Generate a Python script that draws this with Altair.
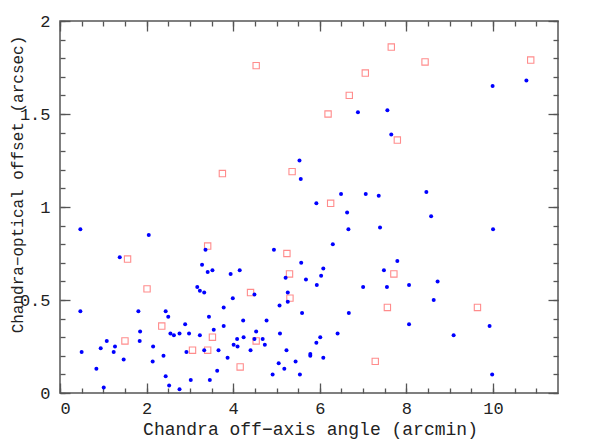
import altair as alt
import pandas as pd

# Blue points (filled circles)
blue_x = [0.47, 2.05, 1.38, 3.36, 3.28, 3.41, 3.52, 3.17, 3.23, 3.33, 3.94, 4.15, 4.94, 5.57,
          5.21, 5.26, 5.26, 5.07, 5.68, 5.59, 4.49, 3.99, 3.78, 3.44, 4.23, 4.77, 0.47, 1.81,
          2.44, 2.50, 2.89, 1.85, 1.84, 2.55, 2.63, 2.76, 2.98, 3.23, 3.55, 3.78, 4.09, 4.24,
          4.01, 4.10, 4.53, 4.49, 4.68, 4.73, 4.40, 5.08, 5.23, 5.05, 5.18, 5.44, 4.91, 5.54,
          3.66, 3.33, 2.92, 3.87, 3.63, 3.46, 3.02, 2.76, 2.52, 2.44, 2.14, 2.39, 2.15, 1.47,
          1.24, 1.27, 0.94, 1.08, 0.50, 0.84, 1.01, 5.53, 5.56, 9.99, 10.77, 6.88, 7.56, 7.65,
          6.49, 7.06, 7.36, 8.46, 5.92, 6.63, 8.57, 6.66, 7.39, 10.00, 6.30, 7.79, 6.08, 7.48,
          6.03, 5.93, 7.00, 7.55, 8.06, 8.72, 8.63, 6.67, 8.06, 9.92, 6.41, 9.09, 6.01, 5.92,
          5.78, 5.78, 6.08, 9.98]
blue_y = [0.88, 0.85, 0.73, 0.77, 0.69, 0.65, 0.66, 0.57, 0.55, 0.54, 0.64, 0.66, 0.77, 0.70,
          0.62, 0.54, 0.49, 0.47, 0.61, 0.43, 0.53, 0.51, 0.46, 0.41, 0.39, 0.39, 0.44, 0.44,
          0.44, 0.41, 0.37, 0.33, 0.28, 0.32, 0.31, 0.32, 0.32, 0.31, 0.34, 0.36, 0.29, 0.30,
          0.26, 0.25, 0.33, 0.29, 0.29, 0.26, 0.23, 0.32, 0.23, 0.16, 0.13, 0.17, 0.10, 0.10,
          0.23, 0.23, 0.22, 0.19, 0.12, 0.07, 0.07, 0.02, 0.04, 0.09, 0.17, 0.20, 0.25, 0.18,
          0.22, 0.25, 0.24, 0.28, 0.22, 0.13, 0.03, 1.25, 1.15, 1.65, 1.68, 1.51, 1.52, 1.39,
          1.07, 1.07, 1.06, 1.08, 1.02, 0.97, 0.95, 0.88, 0.89, 0.88, 0.80, 0.71, 0.67, 0.66,
          0.63, 0.58, 0.57, 0.57, 0.58, 0.60, 0.50, 0.43, 0.37, 0.36, 0.32, 0.31, 0.30, 0.27,
          0.21, 0.20, 0.19, 0.10]

# Red points (open squares)
red_x = [4.53, 5.36, 3.75, 7.65, 8.43, 10.87, 7.05, 6.68, 6.19, 7.79, 6.25, 7.71, 7.56, 9.64,
         7.28, 3.41, 1.56, 5.24, 5.30, 5.31, 4.40, 2.01, 2.35, 3.52, 4.53, 4.16, 3.41, 3.06, 1.50]
red_y = [1.76, 1.19, 1.18, 1.86, 1.78, 1.79, 1.72, 1.60, 1.50, 1.36, 1.02, 0.64, 0.46, 0.46,
         0.17, 0.79, 0.72, 0.75, 0.64, 0.51, 0.54, 0.56, 0.36, 0.30, 0.28, 0.14, 0.23, 0.23, 0.28]

# Tick positions
x_major = [0, 2, 4, 6, 8, 10]
x_minor = [0, 0.5, 1, 1.5, 2, 2.5, 3, 3.5, 4, 4.5, 5, 5.5, 6, 6.5, 7, 7.5, 8, 8.5, 9, 9.5,
           10, 10.5, 11]
y_major = [0, 0.5, 1, 1.5, 2]
y_minor = [0, 0.1, 0.2, 0.3, 0.4, 0.5, 0.6, 0.7, 0.8, 0.9, 1.0, 1.1, 1.2, 1.3, 1.4, 1.5,
           1.6, 1.7, 1.8, 1.9, 2.0]

blue_df = pd.DataFrame({"x": blue_x, "y": blue_y})
red_df = pd.DataFrame({"x": red_x, "y": red_y})

FONT = "Liberation Mono"
TXT = "#222222"
TICK = "#555555"

xs = alt.Scale(domain=[0, 11.5], nice=False, zero=False)
ys = alt.Scale(domain=[0, 2], nice=False, zero=False)


def ax(orient, values, size, labels=False, **kw):
    return alt.Axis(orient=orient, values=values, tickSize=size, offset=-size,
                    domain=False, grid=False, labels=labels, tickColor=TICK,
                    tickWidth=1.3, **kw)


x_main = ax("bottom", x_major, 10, labels=True, format="d", labelFont=FONT,
            labelFontSize=17, labelColor=TXT, labelPadding=7,
            title="Chandra off\u2212axis angle (arcmin)", titleFont=FONT,
            titleFontSize=18, titleFontWeight="normal", titleColor=TXT,
            titleY=51, titleX=250, titleBaseline="alphabetic")
y_main = ax("left", y_major, 10, labels=True, format="~g", labelFont=FONT,
            labelFontSize=17, labelColor=TXT, labelPadding=10,
            title="Chandra\u2212optical offset (arcsec)", titleFont=FONT,
            titleFontSize=16, titleFontWeight="normal", titleColor=TXT,
            titleX=-48, titleY=163, titleBaseline="alphabetic", titleAlign="center")

red = alt.Chart(red_df).mark_square(
    size=40, filled=False, color="#ff8c8c", strokeWidth=1.1, opacity=1
).encode(
    x=alt.X("x:Q", scale=xs, axis=x_main),
    y=alt.Y("y:Q", scale=ys, axis=y_main),
)

blue = alt.Chart(blue_df).mark_circle(size=16, color="#0000ff", opacity=1).encode(
    x=alt.X("x:Q", scale=xs, axis=ax("bottom", x_minor, 5, title=None)),
    y=alt.Y("y:Q", scale=ys, axis=ax("left", y_minor, 5, title=None)),
)

top_major = alt.Chart(blue_df).mark_circle(opacity=0).encode(
    x=alt.X("x:Q", scale=xs, axis=ax("top", x_major, 10, title=None)),
    y=alt.Y("y:Q", scale=ys, axis=ax("right", y_major, 10, title=None)),
)

top_minor = alt.Chart(blue_df).mark_circle(opacity=0).encode(
    x=alt.X("x:Q", scale=xs, axis=ax("top", x_minor, 5, title=None)),
    y=alt.Y("y:Q", scale=ys, axis=ax("right", y_minor, 5, title=None)),
)

chart = alt.layer(red, blue, top_major, top_minor).resolve_axis(
    x="independent", y="independent"
).properties(
    width=498, height=372,
    autosize=alt.AutoSizeParams(type="none"),
    padding={"left": 52, "top": 13, "right": 27, "bottom": 50},
).configure_view(stroke="#555555", strokeWidth=1.5)

chart.save("out.html", embed_options={"renderer": "svg", "actions": False})
